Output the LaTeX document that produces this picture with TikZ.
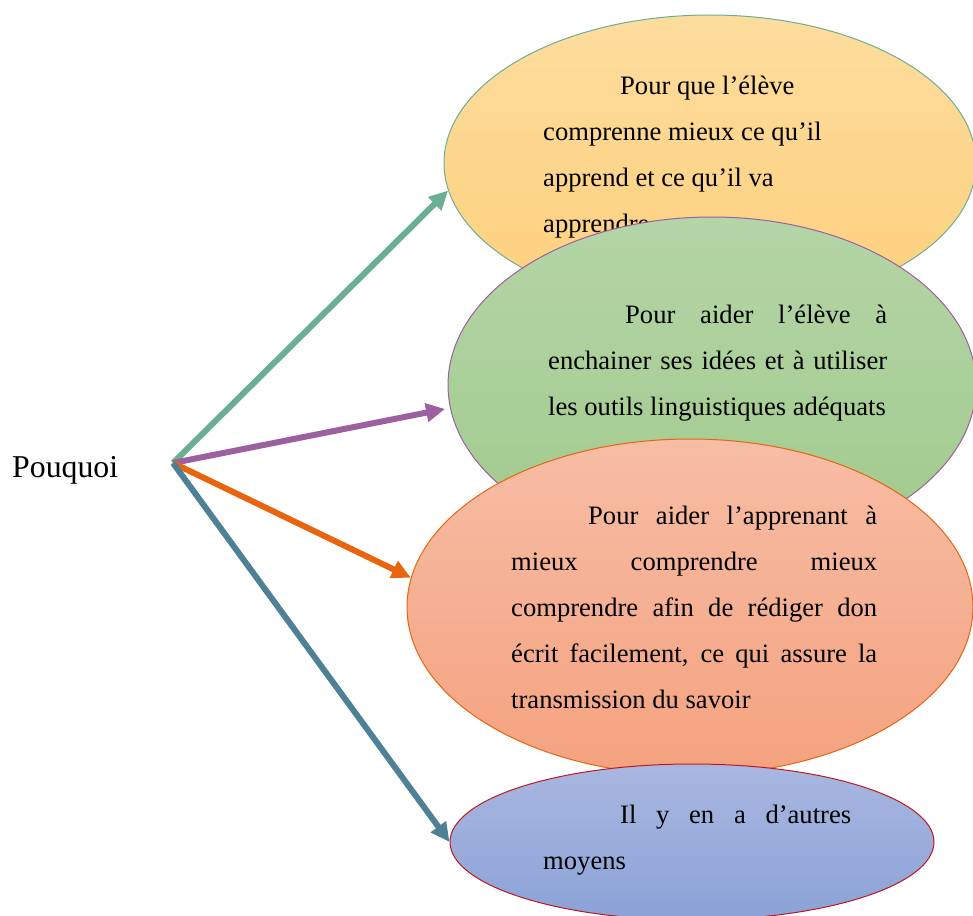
\documentclass[tikz,border=0pt]{standalone}
\usepackage{fontspec}
\setmainfont{Liberation Serif}
\usetikzlibrary{shapes.geometric,arrows.meta}
\definecolor{TealLine}{HTML}{6BAF92}
\definecolor{PlumLine}{HTML}{9C5FA0}
\definecolor{RustLine}{HTML}{E8640F}
\definecolor{SteelLine}{HTML}{4F8196}
\definecolor{WineLine}{HTML}{C0171D}
\definecolor{SandTop}{HTML}{FDDD9E}
\definecolor{SandBot}{HTML}{FDCF7C}
\definecolor{SageTop}{HTML}{B4D5A6}
\definecolor{SageBot}{HTML}{A0CA8C}
\definecolor{PeachTop}{HTML}{F7BDA5}
\definecolor{PeachBot}{HTML}{F4A27F}
\definecolor{SkyTop}{HTML}{A9B7E0}
\definecolor{SkyBot}{HTML}{8BA2D7}
\newcommand\BodyFont{\fontsize{26.6}{46}\selectfont}
\newcommand\Bubble[7]{%
    \node[ellipse,draw=#5,line width=1pt,top color=#6,bottom color=#7,
          minimum width=#3,minimum height=#4,inner sep=0pt] (#1) at (#2) {};
}
\newcommand\BubbleText[5]{%
    \node[anchor=north west,inner sep=0pt,text width=#3,align=#4,font=\BodyFont]
        (#1) at (#2) {\hspace*{77pt}#5};
}

\begin{document}
\begin{tikzpicture}[x=1pt,y=-1pt]
    \useasboundingbox (0,0) rectangle (973,915);
    \tikzset{why/.style={line width=6pt,-{Triangle[length=19pt,width=18pt]}}}
    \Bubble{ReasonA}{710,163}{532}{296}{TealLine}{SandTop}{SandBot}
    \BubbleText{TextA}{543,76}{300}{flush left}{Pour que l’élève\\comprenne mieux ce qu’il\\apprend et ce qu’il va\\apprendre.}
    \Bubble{ReasonB}{712,385}{528}{336}{PlumLine}{SageTop}{SageBot}
    \BubbleText{TextB}{548,305}{339}{justify}{Pour aider l’élève à\linebreak enchainer ses idées et à utiliser\linebreak les outils linguistiques adéquats}
    \Bubble{ReasonC}{690,607}{566}{336}{RustLine}{PeachTop}{PeachBot}
    \BubbleText{TextC}{511,506}{366}{justify}{Pour aider l’apprenant à\linebreak mieux comprendre mieux\linebreak comprendre afin de rédiger don\linebreak écrit facilement, ce qui assure la\linebreak transmission du savoir}
    \Bubble{ReasonD}{692,842}{484}{156}{WineLine}{SkyTop}{SkyBot}
    \BubbleText{TextD}{543,805}{308}{justify}{Il y en a d’autres\linebreak moyens}
    % question and its arrows
    \node[anchor=base west,inner sep=0pt,font=\fontsize{31.8}{38}\selectfont] (Question) at (12,477) {Pouquoi};
    \coordinate (Fork) at (173,463);
    \draw[why,TealLine] (Fork) -- (ReasonA.186);
    \draw[why,PlumLine,shorten >=5pt] (Fork) -- (ReasonB.185);
    \draw[why,RustLine] (Fork) -- (ReasonC.174);
    \draw[why,SteelLine] (Fork) -- (ReasonD.180);
\end{tikzpicture}
\end{document}
